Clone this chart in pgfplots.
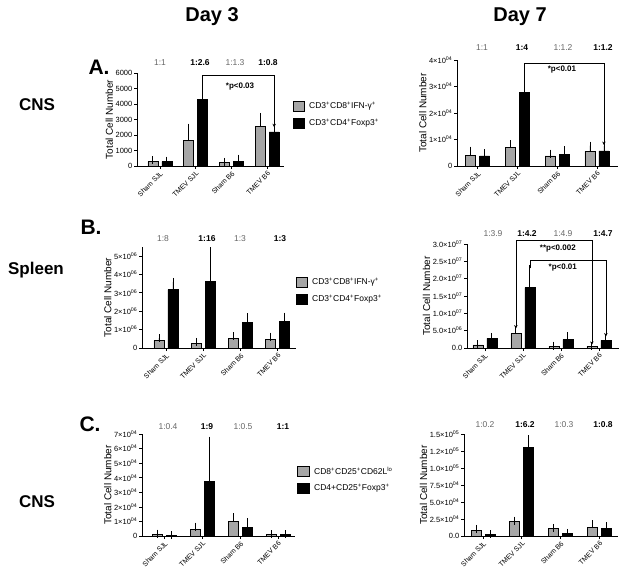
\documentclass[border=0pt]{standalone}
\usepackage{fontspec}
\setmainfont{Liberation Sans}
\usepackage{pgfplots}
\pgfplotsset{compat=1.18}
\usetikzlibrary{arrows.meta}
\newcommand\sci[2]{#1\texttimes10\textsuperscript{#2}}
\newcommand\fs[1]{\fontsize{#1}{#1}\selectfont}
\pgfplotsset{
  panel/.style={
    scale only axis, anchor=south west, clip=false,
    axis x line*=bottom, axis y line*=left,
    axis line style={line width=0.8pt, -},
    ymin=0, scaled y ticks=false,
    xtick={0,1,2,3},
    xticklabels={Sham SJL,TMEV SJL,Sham B6,TMEV B6},
    xticklabel style={rotate=45, anchor=north east, font=\fs{7}, inner sep=1pt},
    yticklabel style={font=\fs{7.5}, inner sep=1.5pt},
    ylabel={Total Cell Number},
    ylabel style={font=\fs{10}, inner sep=1pt},
    tick align=outside, major tick length=3pt,
    tick style={black, line width=0.7pt},
    ybar=4pt, bar width=10pt,
    every axis plot/.append style={draw=black, line width=0.7pt,
      error bars/y dir=plus, error bars/y explicit,
      error bars/error bar style={line width=0.8pt, black},
      error bars/error mark options={mark size=4pt, line width=0.8pt, black}},
  },
  gbar/.style={fill=black!35},
  kbar/.style={fill=black},
}
\tikzset{brk/.style={line width=0.7pt}, arr/.style={-{Stealth[length=3.5pt,width=3.5pt]}},
  ptxt/.style={font=\fs{8}\bfseries}}
\newcommand\rn[3]{\node[font=\fs{8.5}, text=black!60] at (#1,#2) {#3};}
\newcommand\rb[3]{\node[font=\fs{8.5}\bfseries] at (#1,#2) {#3};}
\begin{document}
\begin{tikzpicture}[x=1pt,y=1pt]
\useasboundingbox (0,0) rectangle (624,582);

% ---------- A left: Day 3 CNS ----------
\begin{axis}[panel, at={(137pt,416pt)}, width=147pt, height=93pt,
  xmin=-0.64, xmax=3.47, ymax=6000, ytick={0,1000,...,6000},
  yticklabels={0,1000,2000,3000,4000,5000,6000}]
\addplot[gbar] coordinates {(0,280) +- (0,105) (1,1670) +- (0,810) (2,210) +- (0,50) (3,2570) +- (0,600)};
\addplot[kbar] coordinates {(0,280) +- (0,60) (1,4280) +- (0,860) (2,320) +- (0,150) (3,2200) +- (0,220)};
\draw[brk,arr] ([xshift=7pt]axis cs:1,5400) -- ([xshift=7pt]axis cs:1,5850) -- ([xshift=7pt]axis cs:3,5850) -- ([xshift=7pt]axis cs:3,2500);
\node[ptxt] at (axis cs:2.24,5140) {*p<0.03};
\end{axis}

% ---------- A right: Day 7 CNS ----------
\begin{axis}[panel, at={(457pt,416pt)}, width=161pt, height=106pt,
  xmin=-0.52, xmax=3.53, ymax=40000, ytick={0,10000,...,40000},
  yticklabels={0,\sci{1}{04},\sci{2}{04},\sci{3}{04},\sci{4}{04}}]
\addplot[gbar] coordinates {(0,4150) +- (0,1650) (1,7000) +- (0,1200) (2,3800) +- (0,850) (3,5500) +- (0,2200)};
\addplot[kbar] coordinates {(0,3800) +- (0,1000) (1,27700) +- (0,6600) (2,4500) +- (0,1500) (3,5700) +- (0,1800)};
\draw[brk,arr] ([xshift=7pt]axis cs:1,35000) -- ([xshift=7pt]axis cs:1,38700) -- ([xshift=7pt]axis cs:3,38700) -- ([xshift=7pt]axis cs:3,7900);
\node[ptxt] at (axis cs:2.12,36500) {*p<0.01};
\end{axis}

% ---------- B left: Day 3 Spleen ----------
\begin{axis}[panel, at={(142pt,234pt)}, width=154pt, height=101.2pt,
  xmin=-0.643, xmax=3.49, ymax=5.5e6, ytick={0,1e6,2e6,3e6,4e6,5e6},
  yticklabels={0,\sci{1}{06},\sci{2}{06},\sci{3}{06},\sci{4}{06},\sci{5}{06}}]
\addplot[gbar] coordinates {(0,0.42e6) +- (0,0.11e6) (1,0.25e6) +- (0,0.08e6) (2,0.51e6) +- (0,0.12e6) (3,0.47e6) +- (0,0.15e6)};
\addplot[kbar] coordinates {(0,3.17e6) +- (0,0.42e6) (1,3.64e6) +- (0,1.63e6) (2,1.41e6) +- (0,0.27e6) (3,1.43e6) +- (0,0.28e6)};
\end{axis}

% ---------- B right: Day 7 Spleen ----------
\begin{axis}[panel, at={(467pt,234pt)}, width=152pt, height=104pt,
  xmin=-0.47, xmax=3.53, ymax=3e7, ytick={0,5e6,1e7,1.5e7,2e7,2.5e7,3e7},
  yticklabels={0.0,\sci{5.0}{06},\sci{1.0}{07},\sci{1.5}{07},\sci{2.0}{07},\sci{2.5}{07},\sci{3.0}{07}}]
\addplot[gbar] coordinates {(0,0.9e6) +- (0,0.15e6) (1,4.1e6) +- (0,1.2e6) (2,0.55e6) +- (0,0.1e6) (3,0.45e6) +- (0,0.1e6)};
\addplot[kbar] coordinates {(0,2.8e6) +- (0,0.4e6) (1,17.4e6) +- (0,5.4e6) (2,2.4e6) +- (0,1.0e6) (3,2.2e6) +- (0,0.8e6)};
\draw[brk,{Stealth[length=3.5pt,width=3.5pt]}-{Stealth[length=3.5pt,width=3.5pt]}] ([xshift=-7pt]axis cs:1,5.6e6) -- ([xshift=-7pt]axis cs:1,3.1e7) -- ([xshift=-7pt]axis cs:3,3.1e7) -- ([xshift=-7pt]axis cs:3,0.9e6);
\draw[brk,arr] ([xshift=7pt]axis cs:1,2.3e7) -- ([xshift=7pt]axis cs:1,2.53e7) -- ([xshift=7pt]axis cs:3,2.53e7) -- ([xshift=7pt]axis cs:3,3.3e6);
\node[ptxt] at (axis cs:1.92,2.88e7) {**p<0.002};
\node[ptxt] at (axis cs:2.05,2.31e7) {*p<0.01};
\end{axis}

% ---------- C left: Day 3 CNS ----------
\begin{axis}[panel, at={(142pt,46pt)}, width=153pt, height=102pt,
  xmin=-0.6, xmax=3.45, ymax=70000, ytick={0,10000,...,70000},
  yticklabels={0,\sci{1}{04},\sci{2}{04},\sci{3}{04},\sci{4}{04},\sci{5}{04},\sci{6}{04},\sci{7}{04}}]
\addplot[gbar] coordinates {(0,1100) +- (0,500) (1,4600) +- (0,1800) (2,9800) +- (0,3000) (3,900) +- (0,300)};
\addplot[kbar] coordinates {(0,450) +- (0,100) (1,37300) +- (0,28100) (2,5700) +- (0,3700) (3,900) +- (0,200)};
\end{axis}

% ---------- C right: Day 7 CNS ----------
\begin{axis}[panel, at={(464pt,46pt)}, width=154pt, height=102pt,
  xmin=-0.49, xmax=3.48, ymax=150000, ytick={0,25000,...,150000},
  yticklabels={0.0,\sci{2.5}{04},\sci{5.0}{04},\sci{7.5}{04},\sci{1.0}{05},\sci{1.2}{05},\sci{1.5}{05}}]
\addplot[gbar] coordinates {(0,8800) +- (0,1500) (1,22000) +- (0,500) (2,11300) +- (0,800) (3,12700) +- (0,4500)};
\addplot[kbar] coordinates {(0,2000) +- (0,300) (1,130000) +- (0,12000) (2,3900) +- (0,800) (3,11300) +- (0,3400)};
\end{axis}

% ---------- headings ----------
\node[font=\fs{20}\bfseries] at (212,565) {Day 3};
\node[font=\fs{20}\bfseries] at (520,565) {Day 7};
\node[font=\fs{17}\bfseries] at (37,477) {CNS};
\node[font=\fs{17}\bfseries] at (36,312) {Spleen};
\node[font=\fs{17}\bfseries] at (37,80) {CNS};
\node[font=\fs{21}\bfseries] at (99,515) {A.};
\node[font=\fs{21}\bfseries] at (91,355) {B.};
\node[font=\fs{21}\bfseries] at (90,158) {C.};

% ---------- ratios ----------
\rn{160}{519}{1:1} \rb{200}{519}{1:2.6} \rn{235}{519}{1:1.3} \rb{268}{519}{1:0.8}
\rn{482}{534}{1:1} \rb{522}{534}{1:4} \rn{563}{534}{1:1.2} \rb{603}{534}{1:1.2}
\rn{163}{343}{1:8} \rb{207}{343}{1:16} \rn{240}{343}{1:3} \rb{280}{343}{1:3}
\rn{493}{348}{1:3.9} \rb{527}{348}{1:4.2} \rn{563}{348}{1:4.9} \rb{603}{348}{1:4.7}
\rn{168}{155}{1:0.4} \rb{207}{155}{1:9} \rn{243}{155}{1:0.5} \rb{283}{155}{1:1}
\rn{485}{157}{1:0.2} \rb{525}{157}{1:6.2} \rn{564}{157}{1:0.3} \rb{603}{157}{1:0.8}

% ---------- legends ----------
\draw[fill=black!35, line width=0.6pt] (293,471) rectangle (304,481);
\draw[fill=black, line width=0.6pt] (293,454) rectangle (304,464);
\node[anchor=west, font=\fs{8.5}, inner sep=0pt] at (309,476) {CD3\textsuperscript{+}CD8\textsuperscript{+}IFN-γ\textsuperscript{+}};
\node[anchor=west, font=\fs{8.5}, inner sep=0pt] at (309,459) {CD3\textsuperscript{+}CD4\textsuperscript{+}Foxp3\textsuperscript{+}};

\draw[fill=black!35, line width=0.6pt] (296,294.5) rectangle (307,304.5);
\draw[fill=black, line width=0.6pt] (296,277.5) rectangle (307,287.5);
\node[anchor=west, font=\fs{8.5}, inner sep=0pt] at (312,299.5) {CD3\textsuperscript{+}CD8\textsuperscript{+}IFN-γ\textsuperscript{+}};
\node[anchor=west, font=\fs{8.5}, inner sep=0pt] at (312,282.5) {CD3\textsuperscript{+}CD4\textsuperscript{+}Foxp3\textsuperscript{+}};

\draw[fill=black!35, line width=0.6pt] (297,106) rectangle (309,116);
\draw[fill=black, line width=0.6pt] (297,88.5) rectangle (309,98.5);
\node[anchor=west, font=\fs{8.5}, inner sep=0pt] at (314,111) {CD8\textsuperscript{+}CD25\textsuperscript{+}CD62L\textsuperscript{lo}};
\node[anchor=west, font=\fs{8.5}, inner sep=0pt] at (314,93.5) {CD4+CD25\textsuperscript{+}Foxp3\textsuperscript{+}};
\end{tikzpicture}
\end{document}
